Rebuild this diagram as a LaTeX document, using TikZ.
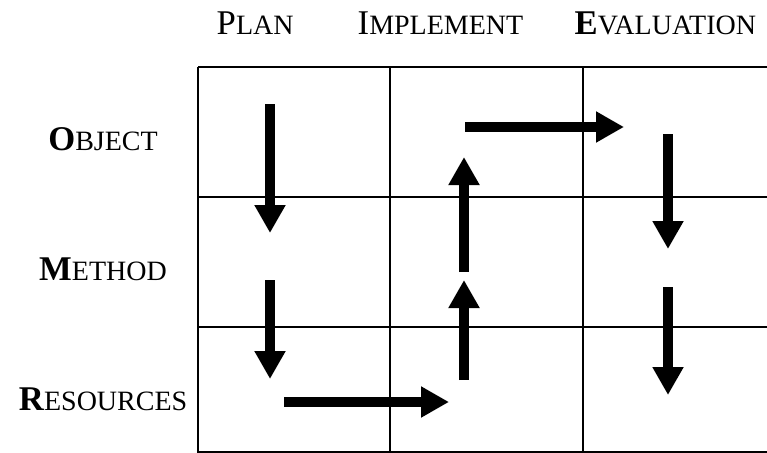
\documentclass[tikz,border=0pt]{standalone}
\usepackage{fontspec}
\setmainfont{Liberation Serif}
\usetikzlibrary{arrows.meta}
\newcommand{\capword}[2]{{\fontsize{26}{30}\selectfont #1}{\fontsize{21}{24}\selectfont #2}}

\begin{document}
\begin{tikzpicture}[x=0.75pt, y=-0.75pt, line width=1.1pt,
    flow/.style={line width=6.8pt, -{Triangle[width=22pt,length=21pt]}},
    head/.style={anchor=base west, inner sep=0pt},
    rowlabel/.style={anchor=base, inner sep=0pt}]
        \useasboundingbox (0,0) rectangle (767,453);
        \draw [line width=1.8pt] (198,67) -- (767,67);
        \draw (198,197) -- (767,197);
        \draw (198,327) -- (767,327);
        \draw (198,452) -- (767,452);
        \draw (198,67) -- (198,453);
        \draw (390,67) -- (390,453);
        \draw (583,67) -- (583,453);
        \node [head] (plan) at (216,35) {\capword{P}{LAN}};
        \node [head] (implement) at (357,35) {\capword{I}{MPLEMENT}};
        \node [head] (evaluation) at (574,35) {\capword{\textbf{E}}{VALUATION}};
        \node [rowlabel] (object) at (103,150) {\capword{\textbf{O}}{BJECT}};
        \node [rowlabel] (method) at (103,280) {\capword{\textbf{M}}{ETHOD}};
        \node [rowlabel] (resources) at (103,410) {\capword{\textbf{R}}{ESOURCES}};
        \coordinate (p1) at (270,104);
        \coordinate (p2) at (270,233);
        \coordinate (p3) at (270,280);
        \coordinate (p4) at (270,379);
        \coordinate (r1) at (284,402);
        \coordinate (r2) at (449,402);
        \coordinate (i1) at (464,380);
        \coordinate (i2) at (464,280);
        \coordinate (i3) at (464,272);
        \coordinate (i4) at (464,157);
        \coordinate (o1) at (465,127);
        \coordinate (o2) at (624,127);
        \coordinate (e1) at (668,134);
        \coordinate (e2) at (668,249);
        \coordinate (e3) at (668,287);
        \coordinate (e4) at (668,395);
        \draw [flow] (p1) -- (p2);
        \draw [flow] (p3) -- (p4);
        \draw [flow] (r1) -- (r2);
        \draw [flow] (i1) -- (i2);
        \draw [flow] (i3) -- (i4);
        \draw [flow] (o1) -- (o2);
        \draw [flow] (e1) -- (e2);
        \draw [flow] (e3) -- (e4);
\end{tikzpicture}
\end{document}
